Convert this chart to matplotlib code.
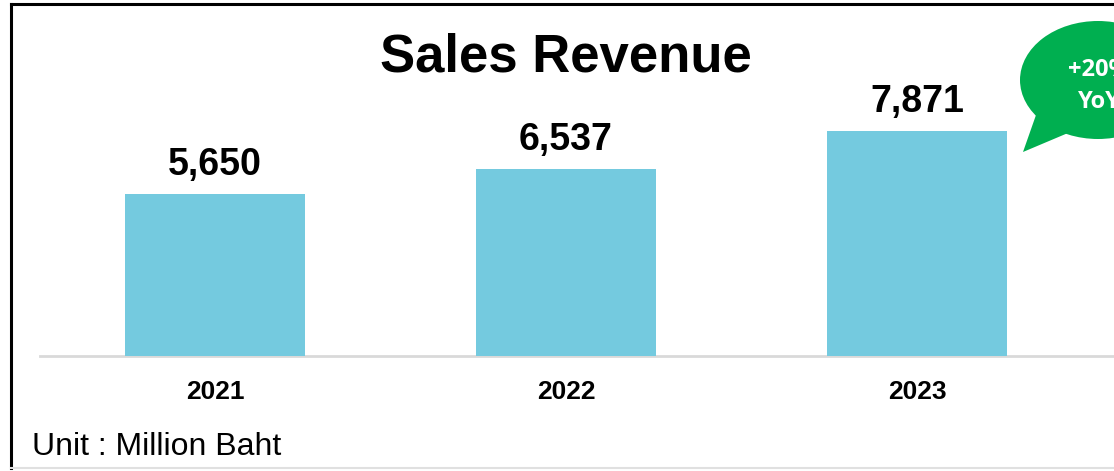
import matplotlib
matplotlib.use("Agg")
import matplotlib.pyplot as plt
from matplotlib.patches import Ellipse, Polygon
from matplotlib.lines import Line2D

years = ["2021", "2022", "2023"]
revenue = [5650, 6537, 7871]
value_labels = ["5,650", "6,537", "7,871"]
title = "Sales Revenue"
unit_note = "Unit : Million Baht"
bubble_text = "+20%\nYoY"

W, H = 1114, 471
fig = plt.figure(figsize=(W / 100, H / 100), dpi=100)
fig.patch.set_facecolor("white")

def fx(px):
    return px / W

def fy(py):
    return 1 - py / H

# axes: baseline at y=356 px, 0.02859 px per unit
ymax = 9000
ax_h = ymax * 225 / 7871
ax = fig.add_axes([fx(39.5), fy(356), fx(1053), ax_h / H])
x = list(range(len(years)))
ax.bar(x, revenue, width=0.513, color="#74CADF", zorder=2)
ax.set_xlim(-0.5, 2.5)
ax.set_ylim(0, ymax)
for s in ["top", "right", "left", "bottom"]:
    ax.spines[s].set_visible(False)
ax.set_yticks([])
ax.set_xticks(x)
ax.set_xticklabels(years, fontsize=19, fontweight="bold", family="Liberation Sans")
ax.tick_params(axis="x", length=0, pad=17)
ax.patch.set_alpha(0)
ax.add_line(Line2D([0, 1.03], [0, 0], transform=ax.transAxes, color="#D9D9D9",
                   lw=2, clip_on=False, zorder=1))

for xi, v, lab in zip(x, revenue, value_labels):
    ax.annotate(lab, (xi, v), xytext=(0, 8), textcoords="offset points",
                ha="center", va="bottom", fontsize=27, fontweight="bold",
                family="Liberation Sans")

fig.text(fx(566), fy(58), title, ha="center", va="center", fontsize=38,
         fontweight="bold", family="Liberation Sans")
fig.text(fx(32), fy(447), unit_note, ha="left", va="center", fontsize=23,
         family="Liberation Sans")

# frame
fig.add_artist(Line2D([fx(11), fx(11)], [fy(4), fy(468)], color="black", lw=2.2))
fig.add_artist(Line2D([fx(11), fx(1114)], [fy(4), fy(4)], color="black", lw=2.2))
fig.add_artist(Line2D([fx(11), fx(1114)], [fy(468), fy(468)], color="#E0E0E0", lw=1.5))

# speech bubble
green = "#00AF50"
fig.add_artist(Ellipse((fx(1098), fy(80)), 2 * 78 / W, 2 * 59 / H,
                       transform=fig.transFigure, facecolor=green, edgecolor="none"))
fig.add_artist(Polygon([(fx(1036), fy(115)), (fx(1023), fy(152)), (fx(1068), fy(133))],
                       closed=True, transform=fig.transFigure, facecolor=green,
                       edgecolor="none"))
fig.text(fx(1099), fy(86), bubble_text, ha="center", va="center", fontsize=17,
         fontweight="bold", color="white", family="Open Sans", linespacing=1.45)

fig.savefig("out.png", dpi=100, facecolor="white")
